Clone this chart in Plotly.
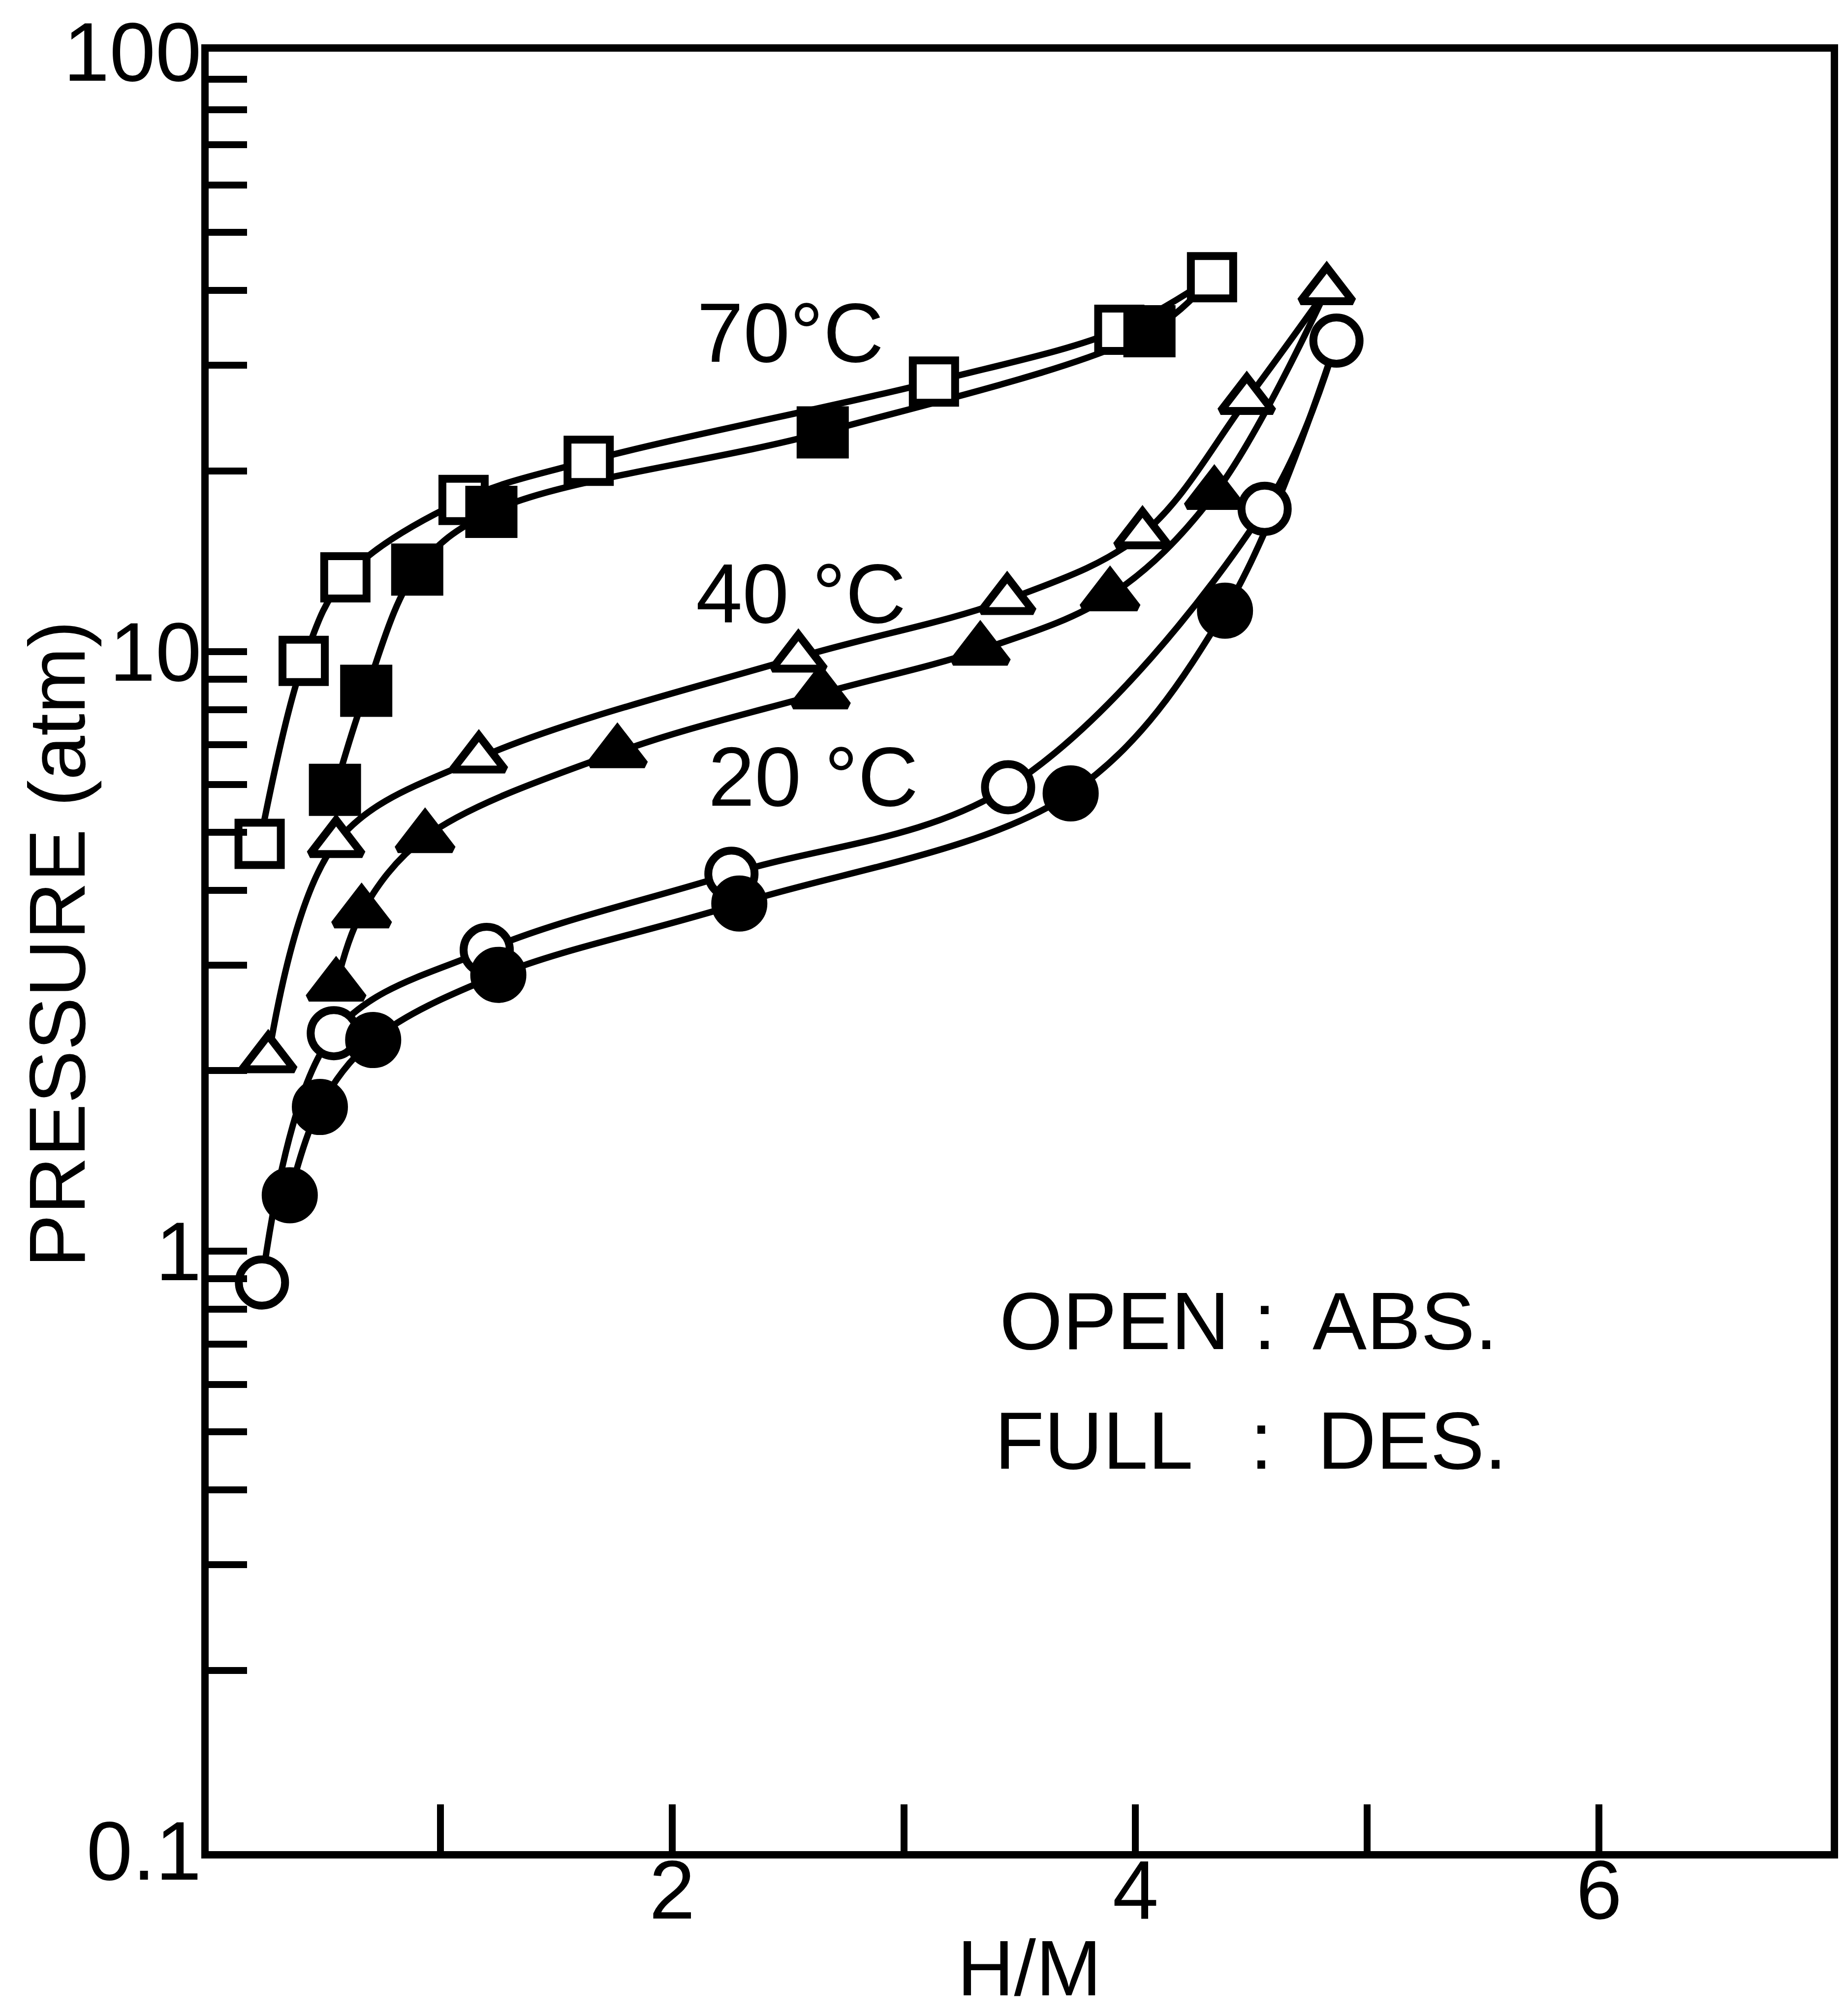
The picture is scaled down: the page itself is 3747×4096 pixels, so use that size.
import math
import plotly.graph_objects as go

# Hydrogen absorption / desorption isotherms, pressure vs H/M
# 70 C
hm_70_abs = [0.22, 0.41, 0.59, 1.10, 1.64, 3.13, 3.93, 4.33]
p_70_abs = [4.78, 9.65, 13.3, 17.9, 20.8, 28.2, 34.4, 42.1]
hm_70_des = [0.545, 0.68, 0.90, 1.22, 2.65, 4.06]
p_70_des = [5.88, 8.60, 13.7, 17.1, 23.2, 34.2]

# 40 C
hm_40_abs = [0.257, 0.55, 1.166, 2.545, 3.446, 4.03, 4.48, 4.825]
p_40_abs = [2.10, 4.80, 6.64, 9.78, 12.2, 15.7, 26.3, 40.1]
hm_40_des = [0.55, 0.66, 0.934, 1.764, 2.64, 3.33, 3.89, 4.34]
p_40_des = [2.77, 3.67, 4.90, 6.79, 8.51, 10.06, 12.4, 18.3]

# 20 C
hm_20_abs = [0.23, 0.54, 1.20, 2.256, 3.45, 4.557, 4.867]
p_20_abs = [0.887, 2.31, 3.18, 4.26, 5.94, 17.3, 33.0]
hm_20_des = [0.35, 0.48, 0.71, 1.25, 2.29, 3.72, 4.386]
p_20_des = [1.24, 1.74, 2.25, 2.89, 3.80, 5.80, 11.7]

temp_labels = ["70°C", "40 °C", "20 °C"]
temp_label_hm = [2.51, 2.556, 2.61]
temp_label_p = [34.0, 12.5, 6.19]

x_tick_vals = [1, 2, 3, 4, 5, 6]
x_tick_text = ["", "2", "", "4", "", "6"]
y_decades = [0.1, 1, 10]
y_major_labels = {0.1: "0.1", 1: "1", 10: "10", 100: "100"}

FONT = "Liberation Sans, Arial, sans-serif"
INK = "black"
LINE_W = 13
MARK_LW = 16

fig = go.Figure()

series = [
    # (x, y, symbol, filled, size, top point of the matching absorption branch)
    (hm_70_abs, p_70_abs, "square", False, 86, None),
    (hm_70_des, p_70_des, "square", True, 90, (hm_70_abs[-1], p_70_abs[-1])),
    (hm_40_abs, p_40_abs, "triangle-up", False, 92, None),
    (hm_40_des, p_40_des, "triangle-up", True, 96, (hm_40_abs[-1], p_40_abs[-1])),
    (hm_20_abs, p_20_abs, "circle", False, 94, None),
    (hm_20_des, p_20_des, "circle", True, 98, (hm_20_abs[-1], p_20_abs[-1])),
]

# smooth curves first (desorption branches start from the absorption maximum)
for xs, ys, sym, filled, size, top in series:
    lx = list(xs) + ([top[0]] if top else [])
    ly = list(ys) + ([top[1]] if top else [])
    fig.add_trace(go.Scatter(
        x=lx, y=ly, mode="lines",
        line=dict(color=INK, width=LINE_W, shape="spline", smoothing=1.0),
        hoverinfo="skip", showlegend=False,
    ))

# markers on top: open = absorption, full = desorption
for xs, ys, sym, filled, size, top in series:
    fig.add_trace(go.Scatter(
        x=xs, y=ys, mode="markers",
        marker=dict(symbol=sym, size=size,
                    color=INK if filled else "white",
                    line=dict(color=INK, width=MARK_LW)),
        showlegend=False, cliponaxis=False,
    ))

# y ticks: every 1..9 multiple in each decade, labels on decades only
y_tick_vals, y_tick_text = [], []
for d in y_decades:
    for k in range(1, 10):
        v = round(k * d, 6)
        y_tick_vals.append(v)
        y_tick_text.append(y_major_labels.get(v, "") if k == 1 else "")
y_tick_vals.append(100)
y_tick_text.append(y_major_labels[100])

tick_font = dict(family=FONT, size=168, color=INK)

fig.update_xaxes(
    range=[0, 7], tickvals=x_tick_vals, ticktext=x_tick_text,
    ticks="inside", ticklen=95, tickwidth=14, tickcolor=INK,
    showline=True, linewidth=15, linecolor=INK, mirror=True,
    showgrid=False, zeroline=False, tickfont=tick_font,
    ticklabelstandoff=-80,
)
fig.update_yaxes(
    type="log", range=[-1.0003, 2.0003], tickvals=y_tick_vals, ticktext=y_tick_text,
    ticks="inside", ticklen=78, tickwidth=14, tickcolor=INK,
    showline=True, linewidth=15, linecolor=INK, mirror=True,
    showgrid=False, zeroline=False, tickfont=tick_font,
    ticklabelstandoff=-34,
)

annotations = []
for txt, hx, py in zip(temp_labels, temp_label_hm, temp_label_p):
    annotations.append(dict(
        x=hx, y=math.log10(py), xref="x", yref="y",
        yanchor="middle", xanchor="center",
        text=txt, showarrow=False, font=dict(family=FONT, size=170, color=INK),
    ))

# key text
key_rows = [("OPEN", "ABS.", 0.2947, 0.487, 0.651, 0.680),
            ("FULL", "DES.", 0.2282, 0.484, 0.649, 0.683)]
for left, right, py, xl, xc, xr in key_rows:
    for txt, px, anc in ((left, xl, "left"), (":", xc, "center"), (right, xr, "left")):
        annotations.append(dict(
            x=px, y=py, xref="paper", yref="paper", xanchor=anc, yanchor="middle",
            text=txt, showarrow=False, font=dict(family=FONT, size=165, color=INK),
        ))

# axis titles
annotations.append(dict(
    x=-0.0935, y=0.504, xref="paper", yref="paper", xanchor="center", yanchor="middle",
    text="PRESSURE (atm)", textangle=-90, showarrow=False,
    font=dict(family=FONT, size=162, color=INK),
))
annotations.append(dict(
    x=0.506, y=-0.065, xref="paper", yref="paper", xanchor="center", yanchor="middle",
    text="H/M", showarrow=False, font=dict(family=FONT, size=160, color=INK),
))

fig.update_layout(
    width=3747, height=4096, autosize=False,
    margin=dict(l=424, r=13, t=93, b=335, pad=0),
    paper_bgcolor="white", plot_bgcolor="white",
    annotations=annotations, showlegend=False,
)

fig.write_html("out.html")
